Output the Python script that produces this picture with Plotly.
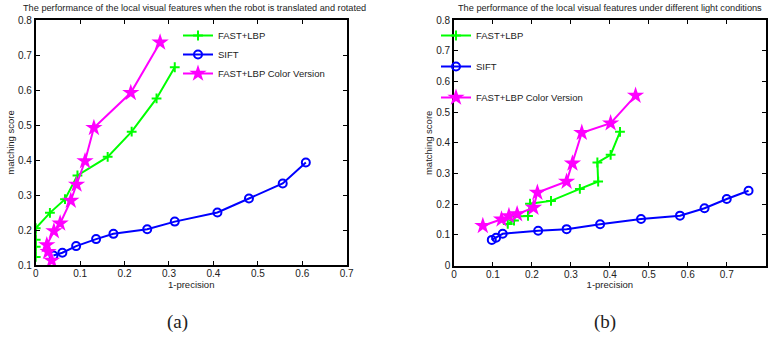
import plotly.graph_objects as go

# ---------- data: (a) translated and rotated ----------
a_fast_x = [0.0, 0.0, 0.0, 0.0, 0.032, 0.066, 0.094, 0.162, 0.216, 0.272, 0.313]
a_fast_y = [0.123, 0.152, 0.172, 0.205, 0.249, 0.288, 0.356, 0.409, 0.481, 0.576, 0.665]

a_sift_x = [0.040, 0.060, 0.091, 0.136, 0.175, 0.251, 0.313, 0.409, 0.480, 0.556, 0.608]
a_sift_y = [0.127, 0.135, 0.154, 0.174, 0.189, 0.202, 0.224, 0.250, 0.290, 0.333, 0.393]

a_color_x = [0.036, 0.028, 0.025, 0.041, 0.055, 0.079, 0.092, 0.111, 0.131, 0.214, 0.280]
a_color_y = [0.113, 0.138, 0.157, 0.197, 0.219, 0.284, 0.330, 0.397, 0.492, 0.592, 0.736]

# ---------- data: (b) different light conditions ----------
b_fast_x = [0.138, 0.154, 0.155, 0.190, 0.195, 0.249, 0.323, 0.370, 0.368, 0.402, 0.426]
b_fast_y = [0.136, 0.147, 0.160, 0.162, 0.202, 0.211, 0.250, 0.274, 0.336, 0.361, 0.436]

b_sift_x = [0.097, 0.108, 0.125, 0.216, 0.289, 0.375, 0.480, 0.580, 0.643, 0.700, 0.756]
b_sift_y = [0.084, 0.091, 0.104, 0.114, 0.119, 0.135, 0.152, 0.163, 0.187, 0.217, 0.244]

b_color_x = [0.074, 0.122, 0.141, 0.162, 0.204, 0.214, 0.289, 0.304, 0.328, 0.402, 0.466]
b_color_y = [0.130, 0.151, 0.162, 0.168, 0.189, 0.238, 0.274, 0.333, 0.433, 0.464, 0.554]

series_names = ["FAST+LBP", "SIFT", "FAST+LBP Color Version"]
titles = ["The performance of the local visual features when the robot is translated and rotated",
          "The performance of the local visual features under different light conditions"]
captions = ["(a)", "(b)"]
x_label = "1-precision"
y_label = "matching score"

GREEN = "#00ff00"
BLUE = "#0000ff"
MAGENTA = "#ff00ff"
FONT = "Liberation Sans, Arial, sans-serif"

W, H = 772, 338


def px_x(p):
    return p / W


def px_y(p):
    return 1 - p / H


fig = go.Figure()


def add_series(xs, ys, xa, ya, legend, gap_groups):
    styles = [
        dict(mode="lines+markers", line=dict(color=GREEN, width=2),
             marker=dict(symbol="cross-thin", size=7, color=GREEN, line=dict(color=GREEN, width=2))),
        dict(mode="lines+markers", line=dict(color=BLUE, width=2),
             marker=dict(symbol="circle-open", size=8, color=BLUE, line=dict(color=BLUE, width=2))),
        dict(mode="lines+markers", line=dict(color=MAGENTA, width=2),
             marker=dict(symbol="star", size=13, color=MAGENTA, line=dict(width=0))),
    ]
    for i, (x, y) in enumerate(zip(xs, ys)):
        fig.add_trace(go.Scatter(x=x, y=y, name=series_names[i], xaxis=xa, yaxis=ya,
                                 legend=legend, legendgroup=(legend + str(i)) if gap_groups else legend,
                                 **styles[i]))


add_series([a_fast_x, a_sift_x, a_color_x], [a_fast_y, a_sift_y, a_color_y], "x", "y", "legend", False)
add_series([b_fast_x, b_sift_x, b_color_x], [b_fast_y, b_sift_y, b_color_y], "x2", "y2", "legend2", True)

axis_common = dict(showline=True, linecolor="black", linewidth=1.6, mirror="ticks",
                   ticks="inside", ticklen=4, tickwidth=1, tickcolor="black",
                   showgrid=False, zeroline=False, tickfont=dict(family=FONT, size=10, color="#222"),
                   fixedrange=True, automargin=False)
x_extra = dict(ticklabelstandoff=-2)

fig.update_layout(
    width=W, height=H,
    margin=dict(l=0, r=0, t=0, b=0, autoexpand=False),
    paper_bgcolor="white", plot_bgcolor="white",
    font=dict(family=FONT, color="#222"),
    xaxis=dict(domain=[px_x(35.7), px_x(346.7)], anchor="y", range=[0, 0.7], dtick=0.1,
               title=dict(text=x_label, font=dict(size=9.5), standoff=2), **axis_common, **x_extra),
    yaxis=dict(domain=[px_y(265), px_y(20)], anchor="x", range=[0.1, 0.8], dtick=0.1,
               title=dict(text=y_label, font=dict(size=9.5), standoff=2), **axis_common),
    xaxis2=dict(domain=[px_x(454), px_x(765.7)], anchor="y2", range=[0, 0.8], dtick=0.1,
                title=dict(text=x_label, font=dict(size=9.5), standoff=2), **axis_common, **x_extra),
    yaxis2=dict(domain=[px_y(265.7), px_y(20)], anchor="x2", range=[0, 0.8], dtick=0.1,
                title=dict(text=y_label, font=dict(size=9.5), standoff=2), **axis_common),
    legend=dict(x=px_x(178), y=px_y(21), xanchor="left", yanchor="top",
                bgcolor="rgba(0,0,0,0)", borderwidth=0, font=dict(size=9.5, family=FONT),
                tracegroupgap=0),
    legend2=dict(x=px_x(436), y=px_y(21), xanchor="left", yanchor="top",
                 bgcolor="rgba(0,0,0,0)", borderwidth=0, font=dict(size=9.5, family=FONT),
                 tracegroupgap=12),
)

# titles
for cx, t in zip([194, 610], titles):
    fig.add_annotation(text=t, x=px_x(cx), y=px_y(8), xref="paper", yref="paper",
                       showarrow=False, xanchor="center", yanchor="middle",
                       font=dict(size=9.2, family=FONT, color="#222"))

# captions
for cx, c in zip([177, 605], captions):
    fig.add_annotation(text=c, x=px_x(cx), y=px_y(322), xref="paper", yref="paper",
                       showarrow=False, xanchor="center", yanchor="middle",
                       font=dict(size=19, family="Liberation Serif, DejaVu Serif, serif", color="#222"))

fig.write_html("out.html", config={"displayModeBar": False},
               post_script="document.body.style.margin='0';")
